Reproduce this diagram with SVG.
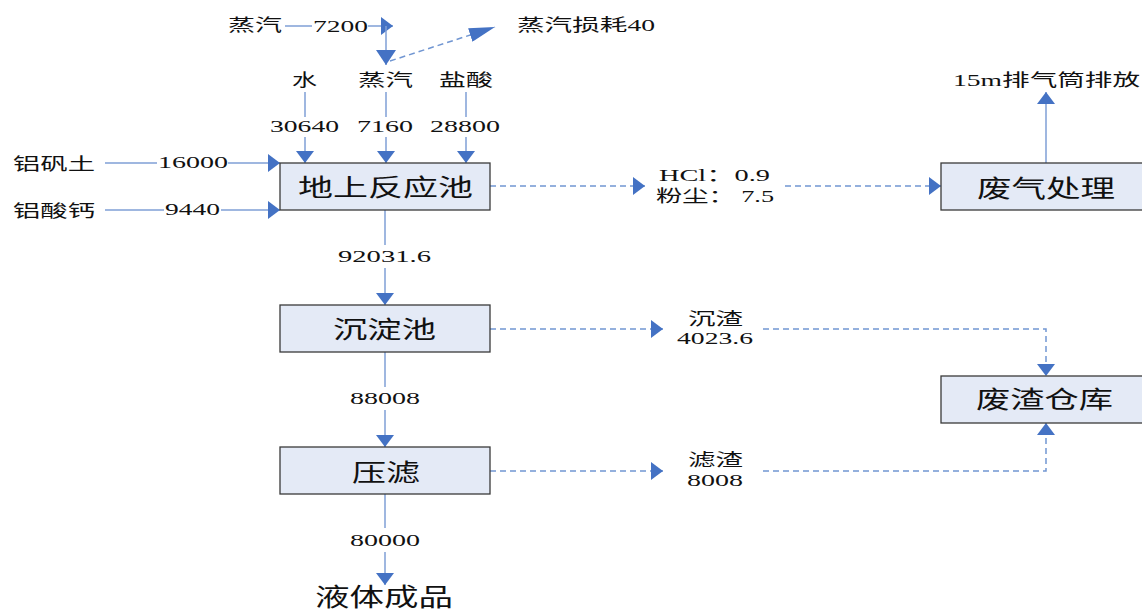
<svg xmlns="http://www.w3.org/2000/svg" width="1142" height="610" viewBox="0 0 1142 610">
<style>
text{font-family:"Liberation Serif","Noto Sans CJK SC",serif;fill:#111;}
.s{font-size:17px;}
.n{font-size:17px;}
.b{font-size:24px;}
.box{fill:#E4EAF6;stroke:#3a3a3a;stroke-width:1.3;}
.ln{fill:none;stroke:#7f9fd6;stroke-width:1.5;}
.dl{fill:none;stroke:#7196d2;stroke-width:1.5;stroke-dasharray:6,4;}
</style>
<defs>
<marker id="ah" markerUnits="userSpaceOnUse" viewBox="0 0 12 18" markerWidth="12" markerHeight="18" refX="12" refY="9" orient="auto"><path d="M0,0 L12,9 L0,18 z" fill="#4472C4"/></marker>
<marker id="ahL" markerUnits="userSpaceOnUse" viewBox="0 0 15 20" markerWidth="15" markerHeight="20" refX="15" refY="10" orient="auto"><path d="M0,0 L15,10 L0,20 z" fill="#4472C4"/></marker>
<marker id="ahD" markerUnits="userSpaceOnUse" viewBox="0 0 26 14" markerWidth="26" markerHeight="14" refX="26" refY="7" orient="auto"><path d="M0,0 L26,7 L0,14 z" fill="#4472C4"/></marker>
</defs>

<g id="connectors">
<path class="ln" d="M285 26 H312"/>
<path class="ln" d="M368 26 H393" marker-end="url(#ah)"/>
<path class="ln" d="M386 26 V65" marker-end="url(#ahL)"/>
<path class="dl" d="M390 61 L495 27" marker-end="url(#ahD)"/>
<path class="ln" d="M305 92 V117"/><path class="ln" d="M305 137 V163" marker-end="url(#ah)"/>
<path class="ln" d="M386 92 V117"/><path class="ln" d="M386 137 V163" marker-end="url(#ah)"/>
<path class="ln" d="M466 92 V117"/><path class="ln" d="M466 137 V163" marker-end="url(#ah)"/>
<path class="ln" d="M105 163 H157"/><path class="ln" d="M228 163 H280" marker-end="url(#ah)"/>
<path class="ln" d="M105 210 H164"/><path class="ln" d="M221 210 H280" marker-end="url(#ah)"/>
<path class="dl" d="M490 186 H645" marker-end="url(#ah)"/>
<path class="dl" d="M785 186 H941" marker-end="url(#ah)"/>
<path class="ln" d="M1046 163 V92" marker-end="url(#ah)"/>
<path class="ln" d="M385 210 V245"/><path class="ln" d="M385 268 V305" marker-end="url(#ah)"/>
<path class="dl" d="M490 329 H663" marker-end="url(#ah)"/>
<path class="dl" d="M763 329 H1046 V376" marker-end="url(#ah)"/>
<path class="ln" d="M385 352 V387"/><path class="ln" d="M385 410 V447" marker-end="url(#ah)"/>
<path class="dl" d="M490 471 H663" marker-end="url(#ah)"/>
<path class="dl" d="M763 471 H1046 V423" marker-end="url(#ah)"/>
<path class="ln" d="M385 494 V528"/><path class="ln" d="M385 552 V585" marker-end="url(#ah)"/>
</g>

<g id="node-reactor"><rect class="box" x="280" y="163" width="210" height="47"/><text class="b" x="298" y="196" textLength="175" lengthAdjust="spacingAndGlyphs">地上反应池</text></g>
<g id="node-settle"><rect class="box" x="280" y="305" width="210" height="47"/><text class="b" x="333" y="338" textLength="103" lengthAdjust="spacingAndGlyphs">沉淀池</text></g>
<g id="node-press"><rect class="box" x="280" y="447" width="210" height="47"/><text class="b" x="352" y="481" textLength="68" lengthAdjust="spacingAndGlyphs">压滤</text></g>
<g id="node-gas"><rect class="box" x="941" y="163" width="205" height="47"/><text class="b" x="977" y="197" textLength="138" lengthAdjust="spacingAndGlyphs">废气处理</text></g>
<g id="node-waste"><rect class="box" x="941" y="376" width="205" height="47"/><text class="b" x="976" y="408" textLength="137" lengthAdjust="spacingAndGlyphs">废渣仓库</text></g>

<g id="labels">
<text class="s" x="228" y="31" textLength="54" lengthAdjust="spacingAndGlyphs">蒸汽</text>
<text class="n" x="313" y="32" textLength="55" lengthAdjust="spacingAndGlyphs">7200</text>
<text class="s" x="517" y="31" textLength="138" lengthAdjust="spacingAndGlyphs">蒸汽损耗40</text>
<text class="s" x="292" y="86" textLength="25" lengthAdjust="spacingAndGlyphs">水</text>
<text class="s" x="358" y="86" textLength="55" lengthAdjust="spacingAndGlyphs">蒸汽</text>
<text class="s" x="439" y="86" textLength="54" lengthAdjust="spacingAndGlyphs">盐酸</text>
<text class="n" x="270" y="132" textLength="69" lengthAdjust="spacingAndGlyphs">30640</text>
<text class="n" x="357" y="132" textLength="56" lengthAdjust="spacingAndGlyphs">7160</text>
<text class="n" x="430" y="132" textLength="70" lengthAdjust="spacingAndGlyphs">28800</text>
<text class="s" x="13" y="170" textLength="82" lengthAdjust="spacingAndGlyphs">铝矾土</text>
<text class="n" x="158" y="168" textLength="70" lengthAdjust="spacingAndGlyphs">16000</text>
<text class="s" x="13" y="217" textLength="82" lengthAdjust="spacingAndGlyphs">铝酸钙</text>
<text class="n" x="165" y="215" textLength="55" lengthAdjust="spacingAndGlyphs">9440</text>
<text class="s" x="659" y="181" textLength="111" lengthAdjust="spacingAndGlyphs">HCl：0.9</text>
<text class="s" x="656" y="202" textLength="118" lengthAdjust="spacingAndGlyphs">粉尘： 7.5</text>
<text class="s" x="953" y="86" textLength="187" lengthAdjust="spacingAndGlyphs">15m排气筒排放</text>
<text class="n" x="338" y="262" textLength="93" lengthAdjust="spacingAndGlyphs">92031.6</text>
<text class="s" x="688" y="325" textLength="55" lengthAdjust="spacingAndGlyphs">沉渣</text>
<text class="n" x="677" y="344" textLength="76" lengthAdjust="spacingAndGlyphs">4023.6</text>
<text class="n" x="350" y="404" textLength="70" lengthAdjust="spacingAndGlyphs">88008</text>
<text class="s" x="688" y="466" textLength="55" lengthAdjust="spacingAndGlyphs">滤渣</text>
<text class="n" x="687" y="486" textLength="56" lengthAdjust="spacingAndGlyphs">8008</text>
<text class="n" x="350" y="546" textLength="70" lengthAdjust="spacingAndGlyphs">80000</text>
<text x="315" y="606" font-size="25" textLength="138" lengthAdjust="spacingAndGlyphs">液体成品</text>
</g>
</svg>
